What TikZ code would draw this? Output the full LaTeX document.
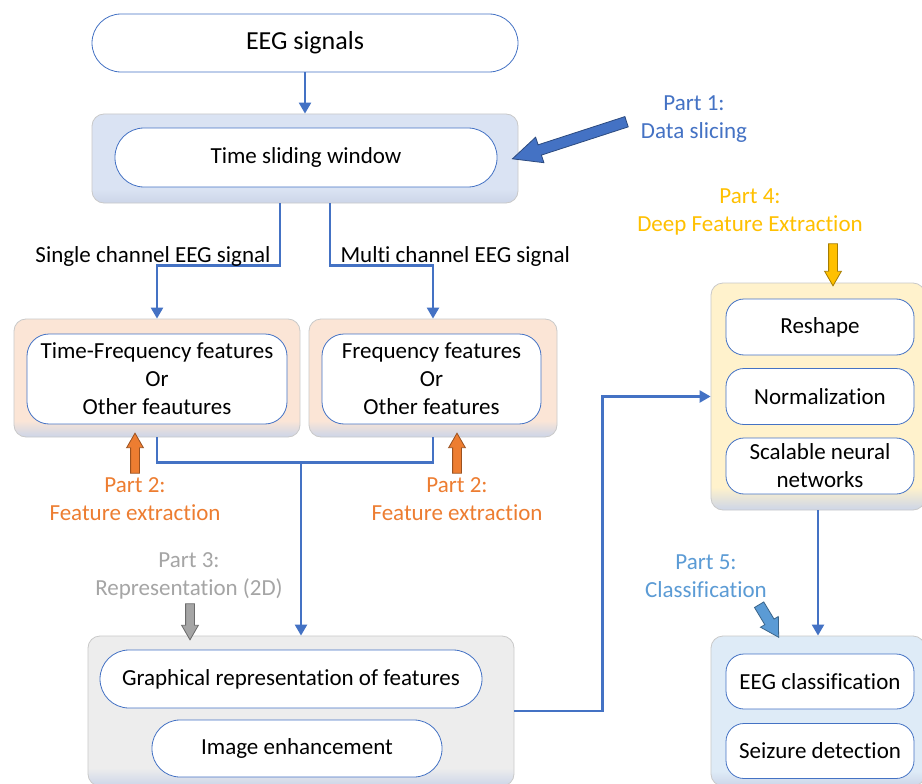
\documentclass[tikz,border=0pt]{standalone}
\usepackage{fontspec}
\setmainfont{Carlito}[Ligatures=NoCommon]
\usetikzlibrary{shapes.arrows,arrows.meta}

\definecolor{pillblue}{HTML}{4472C4}
\definecolor{groupline}{HTML}{C9C9C9}
\definecolor{fadeblue}{HTML}{CCD5E8}
\definecolor{slidefill}{HTML}{DAE3F3}
\definecolor{peach}{HTML}{FBE5D6}
\definecolor{greyfill}{HTML}{EDEDED}
\definecolor{yellowfill}{HTML}{FFF2CC}
\definecolor{clsfill}{HTML}{DEEBF7}
\definecolor{partone}{HTML}{4472C4}
\definecolor{parttwo}{HTML}{ED7D31}
\definecolor{partthree}{HTML}{A5A5A5}
\definecolor{partfour}{HTML}{FFC000}
\definecolor{partfive}{HTML}{5B9BD5}

% group boxes keep their colour and turn bluish near the bottom edge
\pgfdeclareverticalshading{slidefade}{100bp}{color(0bp)=(fadeblue); color(25bp)=(fadeblue); color(33bp)=(slidefill); color(100bp)=(slidefill)}
\pgfdeclareverticalshading{peachfade}{100bp}{color(0bp)=(fadeblue); color(25bp)=(fadeblue); color(32bp)=(peach); color(100bp)=(peach)}
\pgfdeclareverticalshading{greyfade}{100bp}{color(0bp)=(fadeblue); color(25bp)=(fadeblue); color(31bp)=(greyfill); color(100bp)=(greyfill)}
\pgfdeclareverticalshading{yellowfade}{100bp}{color(0bp)=(fadeblue); color(25bp)=(fadeblue); color(30bp)=(yellowfill); color(100bp)=(yellowfill)}
\pgfdeclareverticalshading{clsfade}{100bp}{color(0bp)=(fadeblue); color(25bp)=(fadeblue); color(30bp)=(clsfill); color(100bp)=(clsfill)}

\begin{document}
\begin{tikzpicture}[x=1pt,y=-1pt,>={Triangle[width=12pt,length=11pt]},
  flow/.style={draw=pillblue,line width=2.3pt},
  pill/.style={draw=pillblue,line width=0.8pt,fill=white,align=center,inner sep=0pt,font=\fontsize{23}{28}\selectfont},
  group/.style={draw=groupline,line width=0.8pt,rounded corners=12pt,inner sep=0pt},
  part/.style={align=center,font=\fontsize{23}{28}\selectfont},
  pointer/.style={single arrow,draw=#1!65!black,fill=#1,line width=0.8pt,inner sep=4pt,single arrow head extend=4pt,single arrow tip angle=60}]

\fill[white] (0,0) rectangle (922,784);
\useasboundingbox (0,0) rectangle (922,784);

% input and slicing
\node[pill,minimum width=426pt,minimum height=58pt,rounded corners=29pt,font=\fontsize{26}{30}\selectfont] (eeg) at (305,43) {EEG signals};
\node[group,shading=slidefade,minimum width=426pt,minimum height=89pt] (slide) at (305,158.5) {};
\node[pill,minimum width=382pt,minimum height=59pt,rounded corners=29pt] (win) at (306,157.5) {Time sliding window};

% feature boxes
\node[group,shading=peachfade,minimum width=286pt,minimum height=118pt] (tfgrp) at (157,378) {};
\node[pill,minimum width=260pt,minimum height=90pt,rounded corners=22pt] (tf) at (157,379) {Time-Frequency features\\Or\\Other feautures};
\node[group,shading=peachfade,minimum width=248pt,minimum height=118pt] (frgrp) at (433,378) {};
\node[pill,minimum width=219pt,minimum height=90pt,rounded corners=22pt] (fr) at (431.5,379) {Frequency features\\Or\\Other features};

% 2D representation
\node[group,shading=greyfade,minimum width=426pt,minimum height=150pt] (graph) at (301,711) {};
\node[pill,minimum width=382pt,minimum height=58pt,rounded corners=29pt] (grep) at (291,679) {Graphical representation of features};
\node[pill,minimum width=290pt,minimum height=57pt,rounded corners=28pt] (enh) at (297,748.5) {Image enhancement};

% deep features
\node[group,shading=yellowfade,minimum width=214pt,minimum height=227pt] (deep) at (818,396.5) {};
\node[pill,minimum width=188pt,minimum height=56pt,rounded corners=18pt] (reshape) at (820,327) {Reshape};
\node[pill,minimum width=188pt,minimum height=56pt,rounded corners=18pt] (norm) at (820,396.5) {Normalization};
\node[pill,minimum width=188pt,minimum height=56pt,rounded corners=18pt] (snn) at (820,466) {Scalable neural\\networks};

% classification
\node[group,shading=clsfade,minimum width=214pt,minimum height=150pt] (cls) at (818,711) {};
\node[pill,minimum width=188pt,minimum height=55pt,rounded corners=18pt] (eegcls) at (820,681.5) {EEG classification};
\node[pill,minimum width=188pt,minimum height=55pt,rounded corners=18pt] (seiz) at (820,751) {Seizure detection};

% flow
\draw[flow,->] (eeg) -- (slide);
\draw[flow,->] ([xshift=-25pt]slide.south) -- ++(0,62) -| (tfgrp.north);
\draw[flow,->] ([xshift=25pt]slide.south) -- ++(0,62) -| (frgrp.north);
\node[part,anchor=east] (single) at (274,256) {Single channel EEG signal};
\node[part,anchor=west] (multi) at (337,256) {Multi channel EEG signal};
\coordinate (merge) at ([yshift=-25pt]tfgrp.south -| graph.north);
\draw[flow] (tfgrp.south) |- (merge) -| (frgrp.south);
\draw[flow,->] (merge) -- (graph.north);
\draw[flow,->] (graph.east) -- ++(88,0) |- (deep.west);
\draw[flow,->] (deep.south) -- (cls.north);

% part labels and their pointers
\node[part,text=partone] (p1) at (694,119) {Part 1:\\Data slicing};
\node[pointer=partone,rotate=198,minimum height=120pt,inner sep=5pt,single arrow head extend=8pt,single arrow tip angle=50] at (575,138.5) {};
\node[part,text=parttwo] (p2a) at (135,499) {Part 2:\\Feature extraction};
\node[pointer=parttwo,rotate=90,minimum height=40pt] at (135,457) {};
\node[part,text=parttwo] (p2b) at (457,499) {Part 2:\\Feature extraction};
\node[pointer=parttwo,rotate=90,minimum height=40pt] at (457,457) {};
\node[part,text=partthree] (p3) at (189,576) {Part 3:\\Representation (2D)};
\node[pointer=partthree,rotate=-90,minimum height=36pt] at (190,618) {};
\node[part,text=partfour] (p4) at (750,212) {Part 4:\\Deep Feature Extraction};
\node[pointer=partfour,rotate=-90,minimum height=42pt] at (833,261) {};
\node[part,text=partfive] (p5) at (706,576) {Part 5:\\Classification};
\node[pointer=partfive,rotate=-59,minimum height=38pt,inner sep=5pt,single arrow head extend=5pt] at (766.5,617) {};
\end{tikzpicture}
\end{document}
